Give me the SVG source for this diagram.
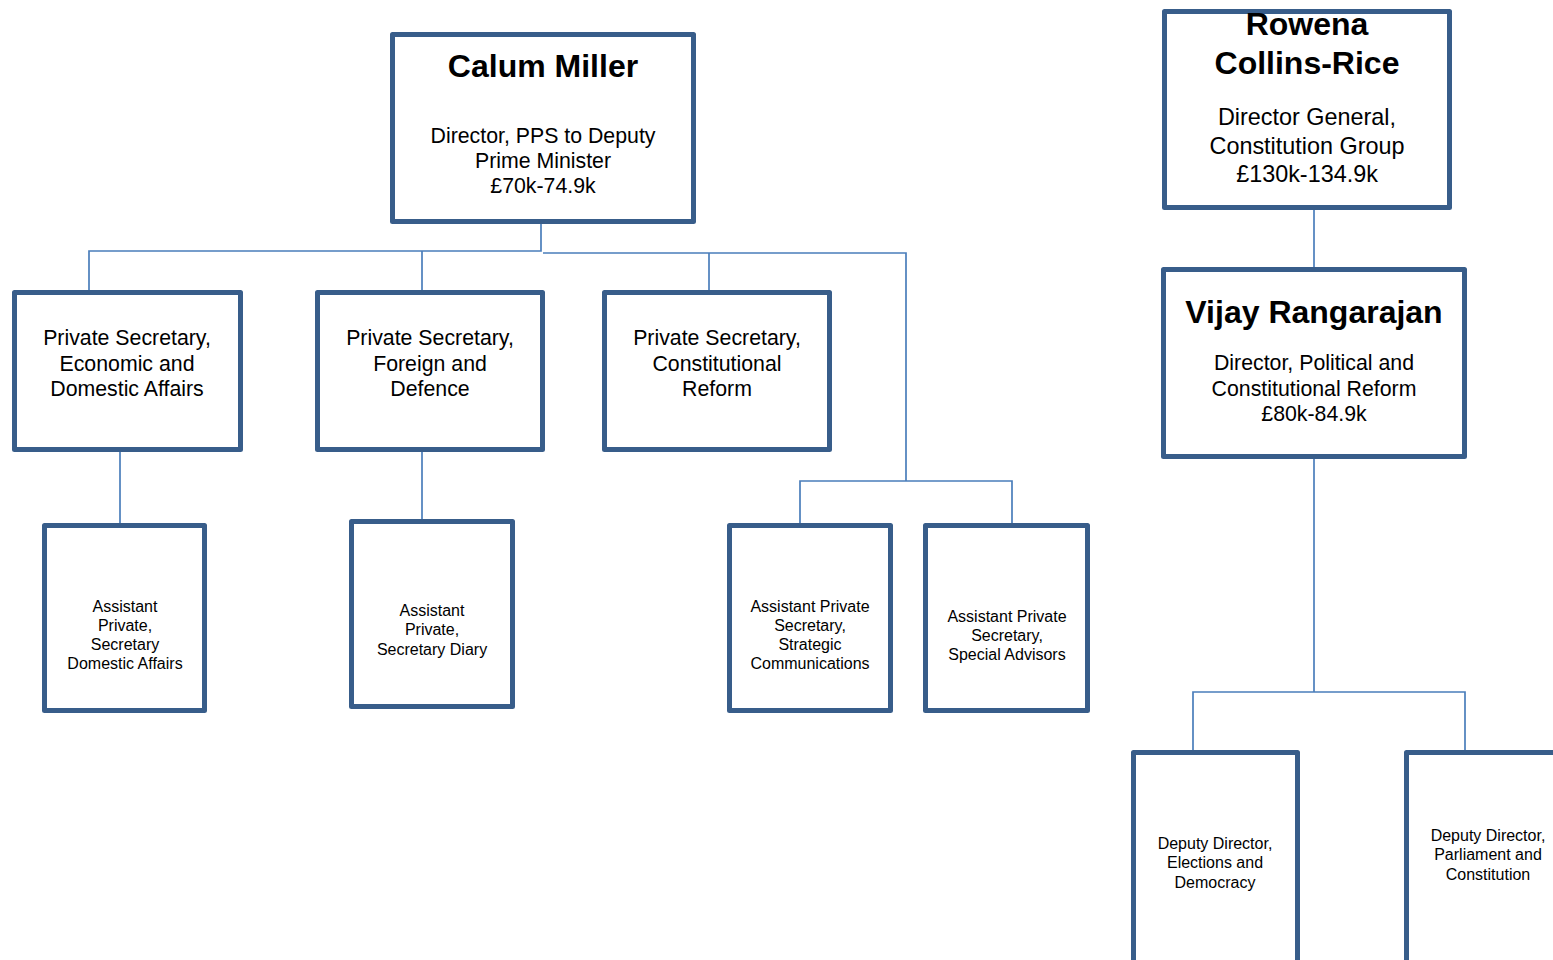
<svg xmlns="http://www.w3.org/2000/svg" width="1553" height="960" viewBox="0 0 1553 960">
  <style>
    .box { fill: #ffffff; stroke: #385d8a; stroke-width: 5; stroke-linejoin: round; }
    .link { fill: none; stroke: #4a7ebb; stroke-width: 1.7; }
    text { font-family: "Liberation Sans", Arial, sans-serif; fill: #000000; text-anchor: middle; }
    .name { font-size: 32px; font-weight: bold; }
    .role { font-size: 21.3px; }
    .role-lg { font-size: 23.4px; }
    .small { font-size: 16px; }
  </style>
  <rect width="1553" height="960" fill="#ffffff"/>

  <!-- reporting lines -->
  <g id="connectors">
    <path class="link" d="M541 208 V251 H89 V293"/>
    <path class="link" d="M422 251 V290"/>
    <path class="link" d="M543 253 H906 V481"/>
    <path class="link" d="M709 253 V290"/>
    <path class="link" d="M800 525 V481 H1012 V525"/>
    <path class="link" d="M120 452 V523"/>
    <path class="link" d="M422 452 V519"/>
    <path class="link" d="M1314 210 V267"/>
    <path class="link" d="M1314 459 V692"/>
    <path class="link" d="M1193 751 V692 H1465 V751"/>
  </g>

  <g id="calum-miller">
    <rect class="box" x="392.5" y="34.5" width="301" height="187"/>
    <text class="name" x="543" y="77">Calum Miller</text>
    <text class="role" x="543" y="143">Director, PPS to Deputy</text>
    <text class="role" x="543" y="168">Prime Minister</text>
    <text class="role" x="543" y="193">£70k-74.9k</text>
  </g>

  <g id="rowena-collins-rice">
    <rect class="box" x="1164.5" y="11.5" width="285" height="196"/>
    <text class="name" x="1307" y="35">Rowena</text>
    <text class="name" x="1307" y="74">Collins-Rice</text>
    <text class="role-lg" x="1307" y="125">Director General,</text>
    <text class="role-lg" x="1307" y="154">Constitution Group</text>
    <text class="role-lg" x="1307" y="182">£130k-134.9k</text>
  </g>

  <g id="vijay-rangarajan">
    <rect class="box" x="1163.5" y="269.5" width="301" height="187"/>
    <text class="name" x="1314" y="323">Vijay Rangarajan</text>
    <text class="role" x="1314" y="370">Director, Political and</text>
    <text class="role" x="1314" y="396">Constitutional Reform</text>
    <text class="role" x="1314" y="421">£80k-84.9k</text>
  </g>

  <g id="ps-economic-domestic">
    <rect class="box" x="14.5" y="292.5" width="226" height="157"/>
    <text class="role" x="127" y="345">Private Secretary,</text>
    <text class="role" x="127" y="371">Economic and</text>
    <text class="role" x="127" y="396">Domestic Affairs</text>
  </g>

  <g id="ps-foreign-defence">
    <rect class="box" x="317.5" y="292.5" width="225" height="157"/>
    <text class="role" x="430" y="345">Private Secretary,</text>
    <text class="role" x="430" y="371">Foreign and</text>
    <text class="role" x="430" y="396">Defence</text>
  </g>

  <g id="ps-constitutional-reform">
    <rect class="box" x="604.5" y="292.5" width="225" height="157"/>
    <text class="role" x="717" y="345">Private Secretary,</text>
    <text class="role" x="717" y="371">Constitutional</text>
    <text class="role" x="717" y="396">Reform</text>
  </g>

  <g id="aps-domestic-affairs">
    <rect class="box" x="44.5" y="525.5" width="160" height="185"/>
    <text class="small" x="125" y="612">Assistant</text>
    <text class="small" x="125" y="631">Private,</text>
    <text class="small" x="125" y="650">Secretary</text>
    <text class="small" x="125" y="669">Domestic Affairs</text>
  </g>

  <g id="aps-diary">
    <rect class="box" x="351.5" y="521.5" width="161" height="185"/>
    <text class="small" x="432" y="616">Assistant</text>
    <text class="small" x="432" y="635">Private,</text>
    <text class="small" x="432" y="655">Secretary Diary</text>
  </g>

  <g id="aps-strategic-comms">
    <rect class="box" x="729.5" y="525.5" width="161" height="185"/>
    <text class="small" x="810" y="612">Assistant Private</text>
    <text class="small" x="810" y="631">Secretary,</text>
    <text class="small" x="810" y="650">Strategic</text>
    <text class="small" x="810" y="669">Communications</text>
  </g>

  <g id="aps-special-advisors">
    <rect class="box" x="925.5" y="525.5" width="162" height="185"/>
    <text class="small" x="1007" y="622">Assistant Private</text>
    <text class="small" x="1007" y="641">Secretary,</text>
    <text class="small" x="1007" y="660">Special Advisors</text>
  </g>

  <g id="dd-elections-democracy">
    <rect class="box" x="1133.5" y="752.5" width="164" height="230"/>
    <text class="small" x="1215" y="849">Deputy Director,</text>
    <text class="small" x="1215" y="868">Elections and</text>
    <text class="small" x="1215" y="888">Democracy</text>
  </g>

  <g id="dd-parliament-constitution">
    <rect class="box" x="1406.5" y="752.5" width="170" height="230"/>
    <text class="small" x="1488" y="841">Deputy Director,</text>
    <text class="small" x="1488" y="860">Parliament and</text>
    <text class="small" x="1488" y="880">Constitution</text>
  </g>
</svg>
